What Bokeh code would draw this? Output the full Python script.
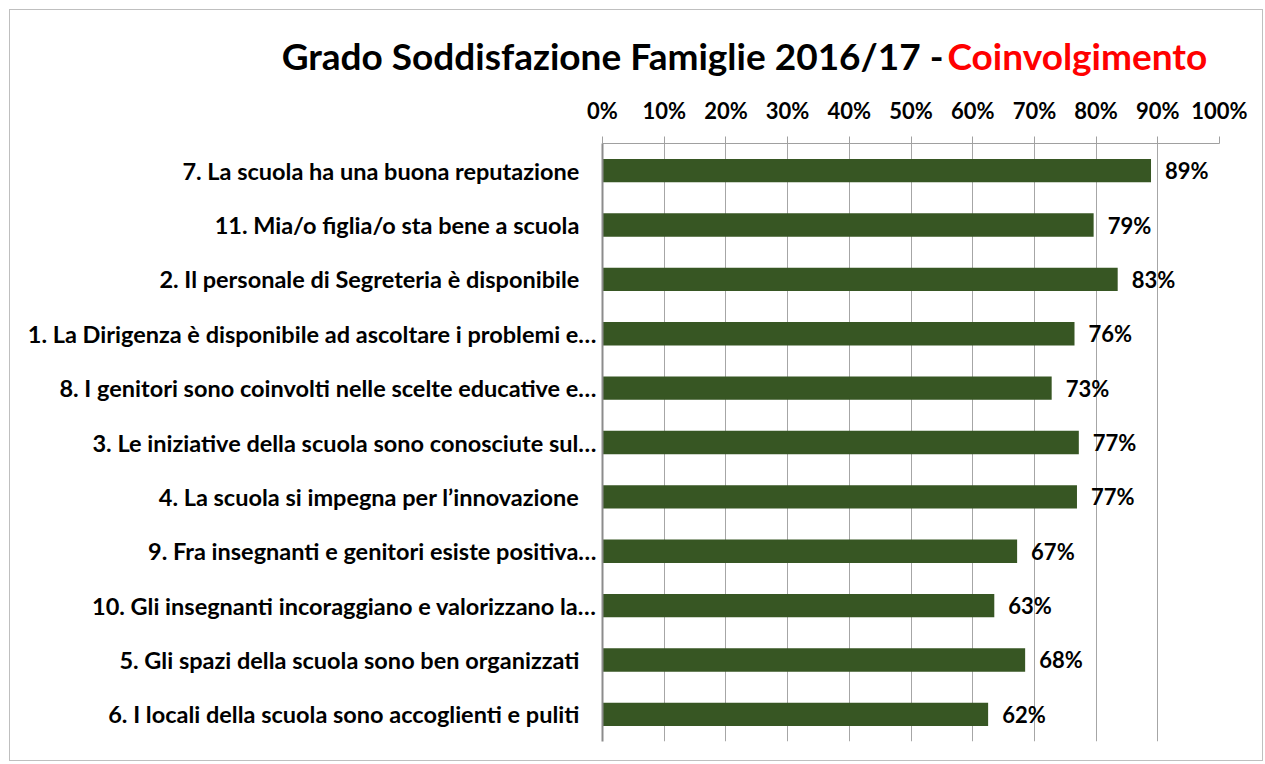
from bokeh.plotting import figure
from bokeh.models import ColumnDataSource, FactorRange, Range1d, FixedTicker, NumeralTickFormatter, LabelSet
from bokeh.core.properties import value
from bokeh.embed import file_html
from bokeh.resources import INLINE

# ---- data (top to bottom) ----
categories = [
    "7. La scuola ha una buona reputazione",
    "11. Mia/o figlia/o sta bene a scuola",
    "2. Il personale di Segreteria è disponibile",
    "1. La Dirigenza è disponibile ad ascoltare i problemi e…",
    "8. I genitori sono coinvolti nelle scelte educative e…",
    "3. Le iniziative della scuola sono conosciute sul…",
    "4. La scuola si impegna per l’innovazione",
    "9. Fra insegnanti e genitori esiste positiva…",
    "10. Gli insegnanti incoraggiano e valorizzano la…",
    "5. Gli spazi della scuola sono ben organizzati",
    "6. I locali della scuola sono accoglienti e puliti",
]
values = [0.889, 0.796, 0.835, 0.765, 0.728, 0.772, 0.769, 0.672, 0.635, 0.685, 0.625]
value_labels = ["89%", "79%", "83%", "76%", "73%", "77%", "77%", "67%", "63%", "68%", "62%"]
x_ticks = [0, 0.1, 0.2, 0.3, 0.4, 0.5, 0.6, 0.7, 0.8, 0.9, 1.0]
title_parts = ["Grado Soddisfazione Famiglie 2016/17 -", "Coinvolgimento"]
title_colors = ["black", "#ff0000"]

FONT = "Lato"
GREEN = "#375623"
W = 1254
TH = 84
BORDER = "1px solid #bfbfbf"

# ---------- title strip ----------
tf = figure(width=W, height=TH, x_range=Range1d(0, W), y_range=Range1d(0, TH),
            output_backend="svg", toolbar_location=None,
            x_axis_location=None, y_axis_location=None,
            min_border_left=0, min_border_right=0, min_border_top=0, min_border_bottom=0)
tf.outline_line_color = None
tf.grid.visible = False
tf.styles = {"border-top": BORDER, "border-left": BORDER, "border-right": BORDER,
             "margin": "9px 0 0 9px"}
tsrc = ColumnDataSource(dict(x=[933, 937], y=[39, 39], t=title_parts, c=title_colors,
                             a=["right", "left"]))
tf.text(x="x", y="y", text="t", text_color="c", text_align="a", source=tsrc,
        text_baseline="alphabetic", text_font=value(FONT), text_font_style="bold",
        text_font_size="37px")

# ---------- bar chart ----------
display = [c if c.endswith("…") else c + "\u00a0\u00a0\u00a0" for c in categories]
src = ColumnDataSource(dict(cat=display, val=values, lab=value_labels))

p = figure(
    width=W, height=668,
    y_range=FactorRange(factors=list(reversed(display)), range_padding=0),
    x_range=Range1d(0, 1.0),
    x_axis_location="above",
    output_backend="svg", toolbar_location=None,
    min_border_left=592, min_border_right=45, min_border_top=50, min_border_bottom=20,
)
p.styles = {"border-bottom": BORDER, "border-left": BORDER, "border-right": BORDER,
            "margin": "0 0 0 9px"}
p.outline_line_color = None
p.background_fill_color = "white"
p.border_fill_color = "white"

p.hbar(y="cat", right="val", left=0, height=0.43, source=src,
       fill_color=GREEN, line_color=None)

xa = p.xaxis[0]
xa.ticker = FixedTicker(ticks=x_ticks)
xa.formatter = NumeralTickFormatter(format="0%")
xa.major_label_text_font = FONT
xa.major_label_text_font_style = "bold"
xa.major_label_text_font_size = "22px"
xa.major_label_text_color = "black"
xa.axis_line_color = "#a0a0a0"
xa.major_tick_line_color = "#a0a0a0"
xa.major_tick_out = 7
xa.major_tick_in = 0
xa.minor_tick_line_color = None
xa.major_label_standoff = 13

ya = p.yaxis[0]
ya.major_label_text_font = FONT
ya.major_label_text_font_style = "bold"
ya.major_label_text_font_size = "23.5px"
ya.major_label_text_color = "black"
ya.axis_line_color = "#8c8c8c"
ya.axis_line_width = 2
ya.major_tick_line_color = None
ya.minor_tick_line_color = None
ya.major_label_standoff = 0

p.xgrid.ticker = FixedTicker(ticks=x_ticks)
p.xgrid.grid_line_color = "#a6a6a6"
p.ygrid.grid_line_color = None

labels = LabelSet(x="val", y="cat", text="lab", source=src, x_offset=14,
                  text_baseline="middle", text_align="left",
                  text_font=value(FONT), text_font_style="bold",
                  text_font_size="22px", text_color="black")
p.add_layout(labels)

open("out.html", "w").write(file_html([tf, p], INLINE))
